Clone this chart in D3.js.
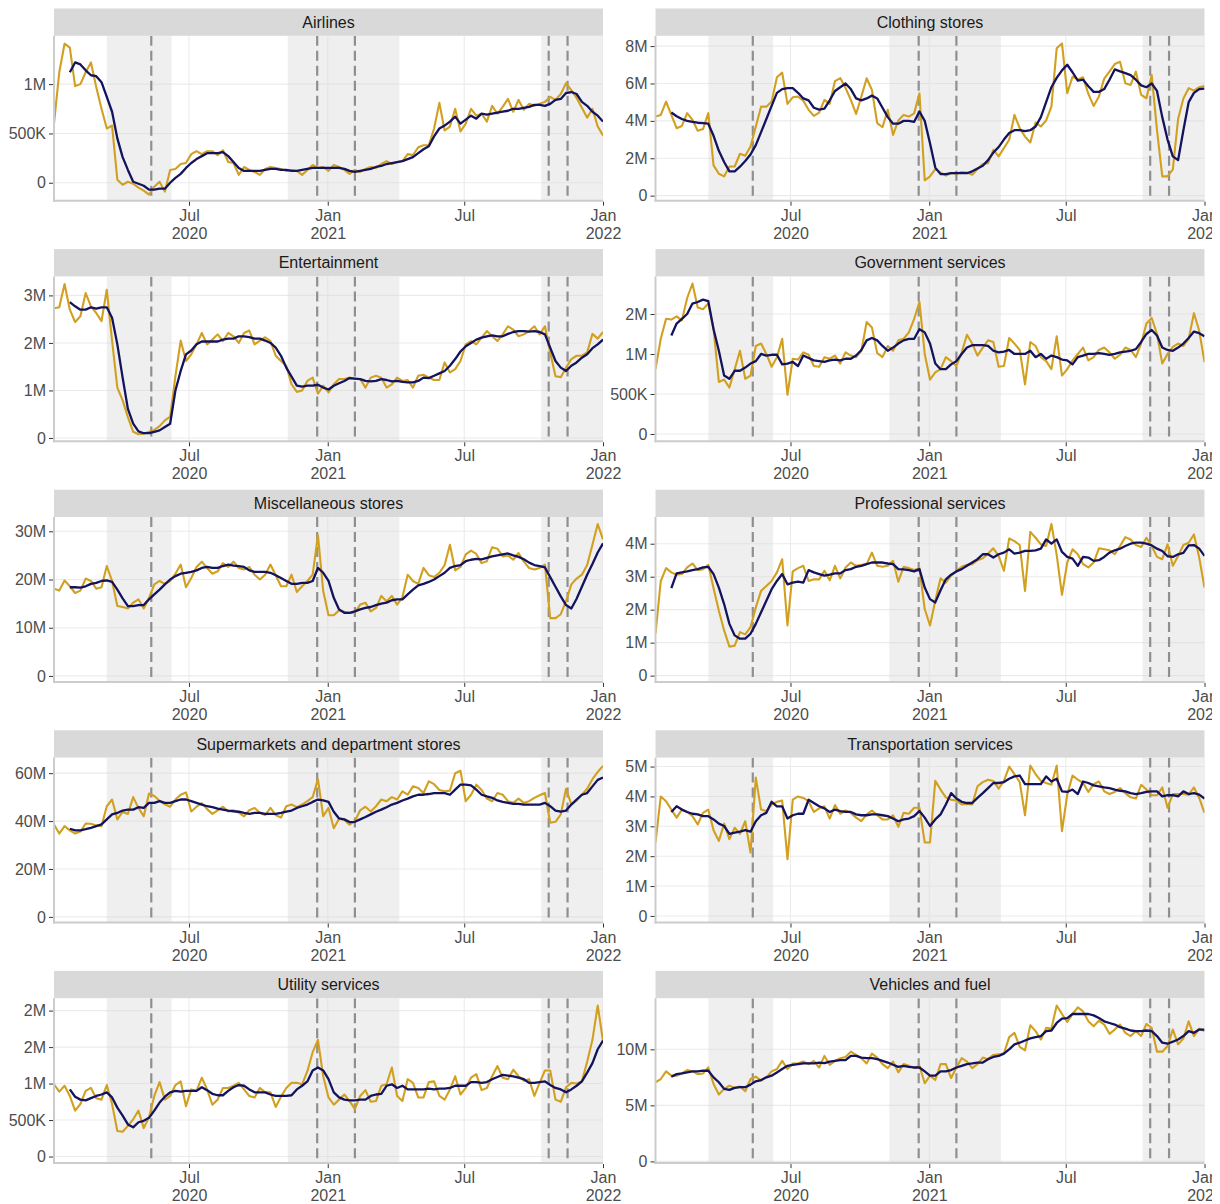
<!DOCTYPE html>
<html>
<head>
<meta charset="utf-8">
<script src="https://cdn.jsdelivr.net/npm/d3@7"></script>
<style>
  body { margin: 0; background: #fff; }
  svg { display: block; font-family: "Liberation Sans", Arial, sans-serif; }
</style>
</head>
<body>
<div id="chart"></div>
<script>
// weekly spending by category (values in millions), first week = Saturday 4 Jan 2020
const firstWeek = '2020-01-04';

const categories = ['Airlines', 'Clothing stores', 'Entertainment', 'Government services',
  'Miscellaneous stores', 'Professional services', 'Supermarkets and department stores',
  'Transportation services', 'Utility services', 'Vehicles and fuel'];

// gold line = weekly value, navy line = 4-week average (starts 3 weeks later)
const airlinesWeekly = [0.60, 1.12, 1.41, 1.37, 0.98, 1.00, 1.12, 1.22, 0.97, 0.75,
  0.55, 0.58, 0.03, -0.02, 0.01, -0.01, -0.05, -0.08, -0.12, -0.04,
  0.01, -0.09, 0.13, 0.14, 0.19, 0.20, 0.29, 0.32, 0.29, 0.32,
  0.32, 0.28, 0.33, 0.21, 0.20, 0.08, 0.16, 0.13, 0.11, 0.08,
  0.14, 0.16, 0.15, 0.14, 0.12, 0.13, 0.12, 0.08, 0.13, 0.18,
  0.15, 0.16, 0.12, 0.18, 0.16, 0.13, 0.09, 0.13, 0.11, 0.14,
  0.16, 0.15, 0.19, 0.22, 0.19, 0.21, 0.22, 0.29, 0.28, 0.36,
  0.38, 0.38, 0.55, 0.81, 0.53, 0.57, 0.75, 0.52, 0.60, 0.75,
  0.68, 0.70, 0.62, 0.78, 0.70, 0.77, 0.85, 0.72, 0.84, 0.74,
  0.80, 0.78, 0.80, 0.82, 0.87, 0.84, 0.90, 1.01, 0.94, 0.86,
  0.76, 0.66, 0.75, 0.57, 0.48];
const airlinesAvg = [1.12, 1.22, 1.20, 1.14, 1.09, 1.08, 1.02, 0.87, 0.72, 0.45,
  0.26, 0.13, 0.01, -0.01, -0.03, -0.07, -0.07, -0.06, -0.06, 0.00,
  0.05, 0.09, 0.15, 0.20, 0.24, 0.27, 0.30, 0.30, 0.30, 0.31,
  0.27, 0.21, 0.15, 0.12, 0.12, 0.12, 0.12, 0.13, 0.14, 0.14,
  0.13, 0.13, 0.12, 0.12, 0.13, 0.14, 0.15, 0.15, 0.15, 0.15,
  0.15, 0.15, 0.14, 0.12, 0.11, 0.12, 0.13, 0.14, 0.16, 0.17,
  0.19, 0.20, 0.21, 0.22, 0.24, 0.26, 0.30, 0.34, 0.37, 0.47,
  0.55, 0.58, 0.62, 0.67, 0.60, 0.64, 0.68, 0.65, 0.70, 0.69,
  0.70, 0.71, 0.72, 0.73, 0.75, 0.75, 0.76, 0.77, 0.79, 0.79,
  0.78, 0.80, 0.84, 0.85, 0.91, 0.92, 0.90, 0.82, 0.78, 0.72,
  0.68, 0.62];

const clothingWeekly = [4.23, 4.32, 5.03, 4.32, 3.61, 3.73, 4.41, 4.05, 3.47, 3.56,
  4.41, 1.62, 1.17, 1.03, 1.56, 1.56, 2.24, 2.13, 2.63, 3.70,
  4.76, 4.76, 5.03, 6.33, 6.58, 4.91, 5.26, 5.30, 5.08, 4.59,
  4.27, 4.44, 5.12, 4.91, 6.13, 6.29, 5.76, 5.12, 4.37, 5.30,
  6.28, 5.65, 3.88, 3.66, 4.59, 3.25, 4.02, 4.32, 4.23, 4.40,
  5.48, 0.82, 1.03, 1.42, 1.24, 1.07, 1.21, 1.17, 1.26, 1.24,
  1.12, 1.42, 1.71, 1.74, 2.45, 2.10, 2.54, 2.99, 4.32, 3.61,
  3.16, 2.84, 3.91, 3.70, 4.02, 4.76, 7.88, 8.14, 5.48, 6.36,
  6.22, 6.33, 5.44, 4.80, 5.30, 6.26, 6.63, 7.04, 7.16, 6.01,
  5.92, 6.63, 5.39, 5.21, 6.45, 3.50, 1.03, 1.03, 1.40, 4.10,
  5.20, 5.75, 5.62, 5.80, 5.87];
const clothingAvg = [4.45, 4.25, 4.10, 4.00, 3.95, 3.90, 3.88, 3.85, 3.20, 2.40,
  1.80, 1.30, 1.30, 1.55, 1.85, 2.20, 2.70, 3.40, 4.10, 4.80,
  5.50, 5.70, 5.75, 5.75, 5.50, 5.20, 5.10, 4.70, 4.60, 4.65,
  5.10, 5.60, 5.80, 6.00, 5.70, 5.20, 5.10, 5.20, 5.35, 5.20,
  4.70, 4.20, 3.85, 3.85, 4.00, 4.00, 3.95, 4.50, 4.00, 2.80,
  1.50, 1.15, 1.15, 1.20, 1.20, 1.20, 1.20, 1.30, 1.45, 1.60,
  1.90, 2.30, 2.60, 3.00, 3.35, 3.50, 3.50, 3.45, 3.50, 3.70,
  4.20, 5.00, 5.80, 6.30, 6.70, 7.00, 6.60, 6.15, 6.20, 5.85,
  5.55, 5.55, 5.70, 6.20, 6.75, 6.65, 6.55, 6.45, 6.20, 5.90,
  5.80, 6.00, 5.60, 4.20, 3.00, 2.10, 1.90, 3.50, 5.00, 5.50,
  5.70, 5.72];

const entertainmentWeekly = [2.73, 2.75, 3.24, 2.70, 2.44, 2.56, 3.05, 2.77, 2.63, 2.46,
  3.12, 2.05, 1.06, 0.79, 0.44, 0.13, 0.08, 0.09, 0.13, 0.17,
  0.25, 0.37, 0.45, 1.30, 2.05, 1.62, 1.76, 1.97, 2.21, 1.97,
  2.07, 2.18, 2.04, 2.21, 2.14, 2.00, 2.21, 2.26, 1.97, 2.05,
  2.12, 2.04, 1.73, 1.62, 1.52, 1.13, 0.97, 1.00, 1.20, 1.27,
  0.93, 1.10, 0.96, 1.13, 1.24, 1.24, 1.27, 1.24, 1.24, 1.06,
  1.27, 1.31, 1.27, 1.06, 1.13, 1.27, 1.20, 1.22, 1.06, 1.31,
  1.33, 1.27, 1.22, 1.22, 1.59, 1.38, 1.45, 1.62, 1.97, 2.04,
  1.97, 2.11, 2.25, 2.14, 2.04, 2.18, 2.35, 2.28, 2.14, 2.18,
  2.25, 2.35, 2.18, 2.35, 1.80, 1.30, 1.28, 1.48, 1.66, 1.73,
  1.73, 1.80, 2.19, 2.09, 2.23];
const entertainmentAvg = [2.86, 2.77, 2.70, 2.70, 2.75, 2.72, 2.75, 2.75, 2.53, 1.97,
  1.27, 0.61, 0.30, 0.14, 0.10, 0.10, 0.13, 0.16, 0.23, 0.30,
  1.00, 1.41, 1.76, 1.84, 1.97, 2.03, 2.03, 2.03, 2.03, 2.07,
  2.09, 2.09, 2.14, 2.14, 2.12, 2.09, 2.09, 2.05, 2.00, 1.90,
  1.73, 1.48, 1.29, 1.10, 1.08, 1.10, 1.10, 1.12, 1.06, 1.02,
  1.10, 1.15, 1.20, 1.26, 1.25, 1.24, 1.20, 1.19, 1.20, 1.24,
  1.22, 1.19, 1.20, 1.18, 1.17, 1.17, 1.20, 1.27, 1.26, 1.31,
  1.36, 1.41, 1.52, 1.66, 1.82, 1.93, 2.00, 2.07, 2.11, 2.14,
  2.16, 2.14, 2.14, 2.19, 2.23, 2.25, 2.25, 2.24, 2.25, 2.23,
  2.18, 1.90, 1.62, 1.48, 1.41, 1.52, 1.59, 1.69, 1.76, 1.89,
  1.97, 2.07];

const governmentWeekly = [0.81, 1.19, 1.44, 1.43, 1.47, 1.42, 1.70, 1.88, 1.58, 1.56,
  1.63, 1.31, 0.65, 0.68, 0.58, 0.81, 1.04, 0.69, 0.73, 1.10,
  1.13, 1.00, 0.84, 0.96, 1.19, 0.49, 0.94, 0.93, 1.02, 0.99,
  0.85, 0.84, 0.96, 0.94, 0.98, 0.88, 1.02, 0.98, 0.96, 1.04,
  1.40, 1.33, 1.01, 0.96, 1.10, 1.04, 1.17, 1.19, 1.27, 1.44,
  1.65, 1.00, 0.68, 0.77, 0.81, 0.96, 0.91, 0.85, 1.02, 1.24,
  1.13, 0.98, 1.08, 1.17, 1.15, 0.84, 0.85, 1.20, 1.13, 1.05,
  0.62, 1.15, 1.10, 0.96, 0.91, 0.81, 1.22, 0.73, 0.81, 0.92,
  1.00, 1.08, 0.92, 0.96, 1.05, 1.08, 1.02, 0.94, 0.99, 1.08,
  1.05, 0.96, 1.13, 1.38, 1.45, 1.25, 0.88, 1.00, 1.09, 1.13,
  1.10, 1.19, 1.51, 1.29, 0.90];
const governmentAvg = [1.23, 1.38, 1.44, 1.50, 1.63, 1.65, 1.68, 1.66, 1.31, 1.04,
  0.73, 0.69, 0.79, 0.79, 0.83, 0.88, 0.91, 1.00, 0.98, 0.99,
  0.99, 0.87, 0.88, 0.90, 0.85, 0.98, 0.95, 0.92, 0.91, 0.90,
  0.92, 0.93, 0.92, 0.94, 0.94, 0.98, 1.05, 1.17, 1.20, 1.17,
  1.10, 1.04, 1.08, 1.13, 1.17, 1.19, 1.19, 1.31, 1.27, 1.13,
  0.88, 0.81, 0.81, 0.87, 0.91, 1.00, 1.08, 1.11, 1.11, 1.11,
  1.10, 1.04, 1.02, 1.03, 1.05, 1.00, 1.00, 1.00, 1.04, 0.96,
  1.00, 0.94, 0.98, 0.96, 0.93, 0.92, 0.87, 0.96, 0.98, 1.00,
  1.00, 1.01, 1.00, 0.99, 1.00, 1.02, 1.03, 1.04, 1.06, 1.15,
  1.25, 1.30, 1.23, 1.08, 1.05, 1.04, 1.08, 1.13, 1.20, 1.28,
  1.26, 1.22];

const miscWeekly = [18.1, 17.7, 19.8, 18.6, 17.2, 17.7, 20.2, 19.7, 18.1, 18.4,
  22.8, 19.7, 14.5, 14.3, 14.0, 15.2, 15.9, 14.0, 16.2, 19.0,
  19.7, 19.1, 19.7, 21.2, 23.1, 18.4, 20.3, 22.6, 23.7, 22.4,
  21.2, 21.7, 23.4, 22.6, 23.7, 22.4, 22.1, 22.6, 21.0, 20.0,
  21.0, 23.1, 20.9, 18.6, 18.6, 21.0, 17.4, 18.6, 19.7, 21.0,
  29.2, 17.6, 12.6, 12.6, 13.6, 13.3, 13.1, 13.1, 14.8, 15.2,
  13.4, 14.1, 16.6, 15.5, 16.6, 14.8, 16.3, 21.0, 19.7, 19.1,
  22.4, 20.9, 20.5, 21.4, 23.0, 27.2, 21.9, 22.6, 25.2, 26.0,
  25.3, 23.4, 23.8, 26.7, 26.4, 24.8, 25.0, 24.1, 25.5, 23.7,
  22.4, 22.1, 22.4, 23.1, 12.0, 12.0, 12.8, 15.5, 19.0, 20.2,
  21.0, 23.0, 27.2, 31.5, 28.3];
const miscAvg = [18.4, 18.4, 18.3, 18.6, 19.1, 19.3, 19.7, 19.8, 19.5, 17.9,
  16.1, 14.5, 14.5, 14.7, 14.7, 15.9, 16.9, 17.9, 19.0, 20.0,
  20.7, 21.2, 21.4, 21.6, 21.9, 22.4, 22.6, 22.4, 22.4, 22.8,
  23.1, 22.9, 22.8, 22.6, 21.9, 21.6, 21.6, 21.6, 21.4, 20.9,
  20.3, 19.7, 19.1, 19.1, 19.3, 19.3, 19.7, 22.4, 21.4, 19.7,
  16.2, 13.8, 13.1, 13.1, 13.4, 13.8, 14.1, 14.3, 14.7, 15.0,
  15.2, 15.7, 15.9, 15.9, 16.9, 17.9, 18.8, 19.1, 19.5, 20.0,
  20.7, 21.4, 22.4, 22.8, 23.0, 23.8, 24.1, 24.3, 24.2, 24.5,
  24.8, 25.0, 25.2, 25.4, 25.0, 24.7, 24.2, 23.5, 23.0, 22.8,
  22.5, 20.5, 18.5, 16.5, 14.7, 14.0, 16.0, 18.5, 21.0, 23.2,
  25.6, 27.5];

const professionalWeekly = [1.27, 2.87, 3.26, 3.13, 3.06, 3.08, 3.28, 3.40, 3.20, 3.23,
  3.36, 2.65, 1.97, 1.37, 0.88, 0.91, 1.32, 1.25, 1.47, 2.07,
  2.57, 2.72, 2.87, 3.13, 3.53, 1.52, 3.16, 3.26, 3.33, 2.87,
  2.92, 2.92, 3.18, 2.89, 3.33, 2.95, 3.28, 3.43, 3.33, 3.36,
  3.38, 3.73, 3.33, 3.30, 3.33, 3.48, 2.85, 3.30, 3.26, 3.20,
  3.26, 2.02, 1.52, 2.27, 2.95, 2.82, 3.03, 3.18, 3.30, 3.36,
  3.38, 3.50, 3.56, 3.70, 3.86, 3.63, 3.18, 4.16, 4.08, 3.96,
  2.57, 4.36, 4.18, 3.98, 3.93, 4.60, 3.66, 2.45, 3.43, 3.83,
  3.68, 3.38, 3.28, 3.43, 3.86, 3.83, 3.80, 3.68, 3.93, 4.20,
  4.13, 3.96, 3.90, 4.18, 3.93, 3.60, 3.53, 3.98, 3.33, 3.63,
  3.96, 4.03, 4.28, 3.58, 2.67];
const professionalAvg = [2.65, 3.10, 3.13, 3.16, 3.20, 3.23, 3.28, 3.30, 3.08, 2.67,
  2.17, 1.57, 1.22, 1.12, 1.12, 1.27, 1.57, 1.92, 2.27, 2.62,
  2.87, 3.08, 2.77, 2.82, 2.85, 2.82, 3.20, 3.13, 3.08, 3.03,
  3.06, 3.10, 3.10, 3.20, 3.23, 3.30, 3.33, 3.38, 3.43, 3.43,
  3.43, 3.40, 3.38, 3.23, 3.22, 3.20, 3.16, 3.23, 2.67, 2.32,
  2.22, 2.59, 2.92, 3.06, 3.16, 3.23, 3.33, 3.43, 3.53, 3.68,
  3.68, 3.58, 3.68, 3.73, 3.83, 3.70, 3.73, 3.78, 3.78, 3.80,
  3.85, 4.13, 4.00, 4.13, 3.75, 3.60, 3.55, 3.33, 3.60, 3.58,
  3.48, 3.50, 3.60, 3.73, 3.80, 3.85, 3.93, 4.00, 4.03, 4.03,
  4.00, 3.95, 3.85, 3.78, 3.62, 3.60, 3.68, 3.72, 3.95, 3.96,
  3.85, 3.63];

const supermarketsWeekly = [38.6, 34.8, 37.9, 36.1, 34.8, 35.6, 39.0, 38.9, 38.2, 37.9,
  46.2, 49.0, 40.7, 43.8, 43.0, 50.0, 45.5, 42.0, 51.5, 50.5,
  48.5, 47.0, 46.0, 49.0, 51.0, 52.0, 44.0, 46.0, 47.5, 45.0,
  43.0, 44.5, 46.0, 44.0, 44.5, 43.5, 42.0, 44.5, 45.5, 43.5,
  42.5, 45.5, 42.5, 41.5, 46.2, 46.9, 45.8, 46.9, 48.3, 50.0,
  57.5, 42.0, 45.5, 37.0, 41.0, 40.5, 38.5, 40.0, 44.5, 46.0,
  44.0, 46.2, 49.0, 48.3, 50.0, 49.0, 52.4, 51.0, 54.5, 53.8,
  51.7, 56.6, 55.4, 53.0, 52.4, 52.7, 60.0, 61.0, 48.3, 51.0,
  55.2, 53.0, 49.4, 48.3, 51.7, 51.0, 48.3, 47.6, 49.4, 47.6,
  48.3, 49.7, 50.8, 51.7, 39.3, 39.7, 42.8, 53.5, 47.0, 48.5,
  51.0, 53.5, 57.5, 60.5, 63.0];
const supermarketsAvg = [36.8, 36.1, 36.1, 36.6, 37.2, 37.9, 38.6, 40.7, 42.8, 43.4,
  44.4, 44.8, 44.8, 45.8, 45.5, 47.6, 47.6, 48.3, 47.6, 47.6,
  48.3, 49.0, 49.0, 48.3, 47.6, 46.9, 46.2, 45.8, 45.2, 44.8,
  44.4, 44.1, 43.9, 43.4, 43.0, 43.4, 43.4, 43.0, 43.0, 43.0,
  43.4, 43.9, 44.4, 45.5, 46.2, 46.9, 48.0, 49.0, 48.6, 48.0,
  43.9, 41.1, 40.7, 39.6, 39.7, 40.7, 41.7, 42.8, 43.9, 44.8,
  45.8, 46.9, 47.6, 48.6, 49.4, 50.3, 51.0, 51.0, 51.3, 51.7,
  51.7, 51.7, 51.0, 53.1, 55.2, 55.2, 54.9, 53.1, 51.0, 50.3,
  49.7, 48.6, 48.0, 47.6, 47.2, 47.2, 46.9, 46.9, 46.9, 46.9,
  47.6, 46.2, 44.4, 43.9, 44.4, 46.9, 49.0, 51.0, 51.7, 54.5,
  57.2, 58.2];

const transportWeekly = [2.46, 4.00, 3.84, 3.56, 3.29, 3.56, 3.48, 3.34, 3.06, 3.45,
  3.56, 2.87, 2.51, 3.09, 2.57, 2.95, 2.75, 3.17, 2.12, 4.63,
  3.56, 3.51, 3.73, 3.82, 3.86, 1.90, 3.89, 4.00, 3.95, 3.84,
  3.48, 3.60, 3.67, 3.26, 3.71, 3.42, 3.53, 3.45, 3.29, 3.17,
  3.40, 3.53, 3.37, 3.23, 3.23, 3.37, 2.98, 3.45, 3.42, 3.62,
  3.62, 2.46, 2.46, 4.52, 4.23, 3.97, 3.89, 3.86, 3.73, 3.75,
  3.73, 4.34, 4.48, 4.56, 4.52, 4.26, 4.52, 5.00, 4.75, 4.48,
  3.37, 5.03, 4.75, 4.52, 4.45, 4.39, 5.03, 2.84, 4.06, 4.70,
  4.56, 4.45, 4.15, 4.41, 4.50, 4.17, 4.08, 4.15, 4.28, 4.11,
  3.97, 3.93, 4.39, 4.23, 4.04, 4.04, 4.30, 3.62, 4.08, 4.08,
  4.08, 4.06, 4.30, 3.95, 3.45];
const transportAvg = [3.48, 3.67, 3.56, 3.48, 3.42, 3.40, 3.34, 3.34, 3.23, 3.09,
  3.01, 2.75, 2.79, 2.82, 2.87, 2.82, 3.17, 3.37, 3.45, 3.82,
  3.67, 3.67, 3.26, 3.37, 3.42, 3.42, 3.89, 3.78, 3.67, 3.60,
  3.48, 3.56, 3.51, 3.48, 3.48, 3.40, 3.37, 3.37, 3.40, 3.40,
  3.37, 3.34, 3.26, 3.17, 3.23, 3.26, 3.34, 3.51, 3.29, 3.01,
  3.23, 3.40, 3.73, 4.11, 3.93, 3.82, 3.78, 3.78, 3.95, 4.11,
  4.28, 4.45, 4.45, 4.48, 4.59, 4.67, 4.70, 4.41, 4.41, 4.41,
  4.41, 4.67, 4.50, 4.59, 4.17, 4.15, 4.23, 4.08, 4.50, 4.45,
  4.37, 4.34, 4.30, 4.28, 4.23, 4.19, 4.17, 4.11, 4.08, 4.11,
  4.15, 4.17, 4.17, 4.00, 4.04, 4.04, 4.00, 4.17, 4.08, 4.11,
  4.06, 3.93];

const utilityWeekly = [0.99, 0.89, 0.97, 0.83, 0.63, 0.72, 0.90, 0.94, 0.80, 0.78,
  0.98, 0.72, 0.35, 0.34, 0.42, 0.51, 0.63, 0.39, 0.54, 0.83,
  1.02, 0.78, 0.83, 0.98, 1.03, 0.69, 0.92, 0.90, 1.08, 0.92,
  0.71, 0.78, 0.94, 0.94, 0.97, 1.01, 0.92, 0.83, 0.81, 0.94,
  0.88, 0.88, 0.68, 0.82, 0.94, 1.01, 1.01, 0.99, 1.17, 1.43,
  1.60, 1.10, 0.81, 0.71, 0.78, 0.85, 0.76, 0.65, 0.83, 0.91,
  0.75, 0.76, 0.97, 0.99, 1.22, 0.83, 0.76, 1.06, 1.01, 0.81,
  0.81, 1.02, 1.03, 0.83, 0.78, 0.92, 1.10, 0.85, 0.94, 1.08,
  1.13, 0.91, 0.94, 1.10, 1.24, 1.08, 1.06, 1.19, 1.10, 1.04,
  1.06, 0.83, 1.01, 1.18, 1.18, 0.78, 0.75, 0.95, 1.01, 1.00,
  1.03, 1.30, 1.60, 2.07, 1.58];
const utilityAvg = [0.92, 0.82, 0.78, 0.77, 0.80, 0.83, 0.85, 0.88, 0.81, 0.67,
  0.56, 0.44, 0.40, 0.47, 0.49, 0.53, 0.63, 0.74, 0.82, 0.88,
  0.90, 0.89, 0.90, 0.90, 0.90, 0.95, 0.91, 0.86, 0.84, 0.84,
  0.90, 0.95, 0.98, 0.97, 0.92, 0.88, 0.88, 0.88, 0.85, 0.83,
  0.83, 0.83, 0.84, 0.92, 0.97, 1.03, 1.18, 1.22, 1.18, 1.06,
  0.88, 0.81, 0.78, 0.77, 0.77, 0.78, 0.78, 0.83, 0.85, 0.86,
  0.97, 0.99, 0.94, 0.97, 0.92, 0.92, 0.92, 0.92, 0.93, 0.92,
  0.93, 0.93, 0.94, 0.97, 0.97, 0.97, 1.02, 1.02, 1.01, 1.02,
  1.06, 1.09, 1.12, 1.11, 1.10, 1.08, 1.06, 1.01, 1.01, 1.02,
  1.03, 0.98, 0.94, 0.92, 0.88, 0.92, 0.97, 1.03, 1.15, 1.28,
  1.47, 1.59];

const vehiclesWeekly = [7.06, 7.35, 8.03, 7.65, 7.65, 7.85, 8.15, 8.03, 7.79, 7.85,
  8.38, 6.91, 5.97, 6.47, 6.76, 6.56, 6.68, 6.26, 7.35, 7.56,
  7.21, 7.50, 8.03, 8.24, 8.97, 8.24, 8.74, 8.74, 8.91, 8.68,
  8.97, 8.38, 9.41, 8.62, 8.97, 9.21, 9.32, 9.79, 9.50, 9.21,
  8.74, 9.62, 9.26, 8.68, 8.32, 8.91, 7.94, 8.68, 8.53, 8.32,
  8.53, 6.97, 7.65, 7.26, 8.68, 8.68, 7.44, 8.38, 9.21, 8.91,
  8.32, 8.68, 9.26, 9.12, 9.50, 9.56, 9.62, 11.09, 11.47, 10.21,
  9.91, 12.15, 11.62, 10.88, 11.91, 11.85, 13.91, 13.15, 12.44, 13.15,
  13.74, 13.38, 12.50, 12.06, 12.56, 12.21, 11.38, 11.76, 12.21, 11.47,
  11.18, 11.62, 11.18, 12.26, 11.91, 9.79, 9.79, 10.29, 11.76, 10.44,
  10.97, 12.50, 11.18, 11.85, 11.62];
const vehiclesAvg = [7.56, 7.79, 7.85, 7.94, 8.03, 8.03, 8.09, 8.09, 7.50, 7.06,
  6.47, 6.38, 6.56, 6.62, 6.62, 6.85, 7.15, 7.26, 7.50, 7.65,
  7.94, 8.24, 8.53, 8.62, 8.68, 8.74, 8.74, 8.74, 8.82, 8.76,
  8.91, 8.97, 9.03, 9.03, 9.41, 9.41, 9.26, 9.21, 9.21, 9.12,
  8.97, 8.82, 8.62, 8.44, 8.53, 8.44, 8.38, 8.38, 8.03, 7.65,
  7.65, 8.03, 8.03, 8.15, 8.38, 8.53, 8.68, 8.74, 8.82, 8.82,
  9.12, 9.32, 9.41, 9.62, 10.00, 10.44, 10.59, 10.79, 10.97, 11.09,
  11.18, 11.62, 11.68, 12.35, 12.74, 12.79, 13.15, 13.15, 13.15, 13.15,
  13.03, 12.79, 12.50, 12.35, 12.21, 11.97, 11.85, 11.68, 11.62, 11.62,
  11.68, 11.62, 11.18, 10.59, 10.50, 10.68, 10.88, 11.18, 11.62, 11.47,
  11.76, 11.76];

// y-axis tick values (millions) and visible y range of each panel
const airlinesTicks = [0, 0.5, 1];
const clothingTicks = [0, 2, 4, 6, 8];
const entertainmentTicks = [0, 1, 2, 3];
const governmentTicks = [0, 0.5, 1, 1.5];
const miscTicks = [0, 10, 20, 30];
const professionalTicks = [0, 1, 2, 3, 4];
const supermarketsTicks = [0, 20, 40, 60];
const transportTicks = [0, 1, 2, 3, 4, 5];
const utilityTicks = [0, 0.5, 1, 1.5, 2];
const vehiclesTicks = [0, 5, 10];

const yLimits = [[-0.182, 1.49], [-0.27, 8.55], [-0.07, 3.40], [-0.092, 1.97], [-1.24, 32.97],
  [-0.19, 4.81], [-2.34, 66.5], [-0.22, 5.30], [-0.09, 2.17], [-0.15, 14.56]];

// x axis
const xTickDates = ['2020-07-01', '2021-01-01', '2021-07-01', '2022-01-01'];
const xTickLabels = [['Jul', '2020'], ['Jan', '2021'], ['Jul'], ['Jan', '2022']];

// shaded periods and dashed marker dates
const shadedPeriods = [['2020-03-14', '2020-06-08'], ['2020-11-09', '2021-04-06'], ['2021-10-11', '2022-02-01']];
const markerDates = ['2020-05-12', '2020-12-18', '2021-02-06', '2021-10-21', '2021-11-15'];

// ---------------------------------------------------------------
const weekly = [airlinesWeekly, clothingWeekly, entertainmentWeekly, governmentWeekly, miscWeekly,
  professionalWeekly, supermarketsWeekly, transportWeekly, utilityWeekly, vehiclesWeekly];
const averages = [airlinesAvg, clothingAvg, entertainmentAvg, governmentAvg, miscAvg,
  professionalAvg, supermarketsAvg, transportAvg, utilityAvg, vehiclesAvg];
const ticks = [airlinesTicks, clothingTicks, entertainmentTicks, governmentTicks, miscTicks,
  professionalTicks, supermarketsTicks, transportTicks, utilityTicks, vehiclesTicks];

const parse = d3.utcParse('%Y-%m-%d');
const start = parse(firstWeek);
const weekDate = i => d3.utcDay.offset(start, 7 * i);
const xDomain = [start, weekDate(airlinesWeekly.length - 1)];

const W = 1212, H = 1204;
const colLeft = [54, 655.5], panelW = 549;
const rowTop0 = 8.5, rowStep = 240.6, stripH = 27.3, panelH = 164.9;
const GOLD = '#d2a021', NAVY = '#13135e';

const fmtM = v => v === 0 ? '0' : (v >= 1 ? Math.round(v) + 'M' : Math.round(v * 1000) + 'K');

const svg = d3.select('#chart').append('svg').attr('width', W).attr('height', H);
const defs = svg.append('defs');

categories.forEach((name, k) => {
  const col = k % 2, row = Math.floor(k / 2);
  const x0 = colLeft[col], top = rowTop0 + row * rowStep;
  const py = top + stripH, pb = py + panelH;

  const x = d3.scaleUtc().domain(xDomain).range([x0, x0 + panelW]);
  const y = d3.scaleLinear().domain(yLimits[k]).range([pb, py]);

  const cid = 'clip' + k;
  defs.append('clipPath').attr('id', cid)
    .append('rect').attr('x', x0).attr('y', py).attr('width', panelW).attr('height', panelH);

  const g = svg.append('g');
  const inner = g.append('g').attr('clip-path', `url(#${cid})`);

  // grid lines
  inner.append('g').selectAll('line').data(ticks[k]).join('line')
    .attr('x1', x0).attr('x2', x0 + panelW)
    .attr('y1', d => y(d)).attr('y2', d => y(d))
    .attr('stroke', '#ebebeb').attr('stroke-width', 1.1);
  inner.append('g').selectAll('line').data(xTickDates).join('line')
    .attr('x1', d => x(parse(d))).attr('x2', d => x(parse(d)))
    .attr('y1', py).attr('y2', pb)
    .attr('stroke', '#ebebeb').attr('stroke-width', 1.1);

  // shaded periods
  inner.append('g').selectAll('rect').data(shadedPeriods).join('rect')
    .attr('x', d => x(parse(d[0])))
    .attr('width', d => x(parse(d[1])) - x(parse(d[0])))
    .attr('y', py).attr('height', panelH)
    .attr('fill', '#d9d9d9').attr('fill-opacity', 0.42);

  // dashed markers
  inner.append('g').selectAll('line').data(markerDates).join('line')
    .attr('x1', d => x(parse(d))).attr('x2', d => x(parse(d)))
    .attr('y1', py).attr('y2', pb)
    .attr('stroke', '#8f8f8f').attr('stroke-width', 2.2)
    .attr('stroke-dasharray', '10,5');

  // series
  const data = weekly[k];
  const avg = averages[k];
  const offset = data.length - avg.length;
  inner.append('path').datum(data)
    .attr('fill', 'none').attr('stroke', GOLD).attr('stroke-width', 2.1)
    .attr('stroke-linejoin', 'round')
    .attr('d', d3.line().x((d, i) => x(weekDate(i))).y(d => y(d)));
  inner.append('path').datum(avg)
    .attr('fill', 'none').attr('stroke', NAVY).attr('stroke-width', 2.3)
    .attr('stroke-linejoin', 'round')
    .attr('d', d3.line().x((d, i) => x(weekDate(i + offset))).y(d => y(d)));

  // axis lines
  g.append('line').attr('x1', x0).attr('x2', x0).attr('y1', py).attr('y2', pb + 1)
    .attr('stroke', '#cccccc').attr('stroke-width', 2);
  g.append('line').attr('x1', x0 - 1).attr('x2', x0 + panelW).attr('y1', pb).attr('y2', pb)
    .attr('stroke', '#cccccc').attr('stroke-width', 2);

  // y axis
  const yAxis = g.append('g').attr('transform', `translate(${x0 - 1},0)`)
    .call(d3.axisLeft(y).tickValues(ticks[k]).tickFormat(fmtM).tickSize(4).tickPadding(3));
  yAxis.select('.domain').remove();
  yAxis.selectAll('.tick line').attr('stroke', '#333').attr('stroke-width', 1);
  yAxis.selectAll('.tick text').attr('fill', '#4d4d4d').style('font-size', '16px')
    .style('font-family', '"Liberation Sans", Arial, sans-serif');

  // x axis (two-line labels)
  const xAxis = g.append('g').attr('transform', `translate(0,${pb + 1})`)
    .call(d3.axisBottom(x).tickValues(xTickDates.map(parse)).tickSize(4).tickPadding(3).tickFormat(''));
  xAxis.select('.domain').remove();
  xAxis.selectAll('.tick line').attr('stroke', '#333').attr('stroke-width', 1);
  xAxis.selectAll('.tick text').each(function (d, i) {
    const t = d3.select(this).text(null).attr('dy', null).attr('fill', '#4d4d4d')
      .style('font-size', '16px').style('font-family', '"Liberation Sans", Arial, sans-serif');
    xTickLabels[i].forEach((s, j) => {
      t.append('tspan').attr('x', 0).attr('dy', j === 0 ? '0.75em' : '1.13em').text(s);
    });
  });

  // strip
  g.append('rect').attr('x', x0).attr('y', top).attr('width', panelW).attr('height', stripH)
    .attr('fill', '#d9d9d9');
  g.append('text').attr('x', x0 + panelW / 2).attr('y', top + stripH / 2).attr('dy', '0.35em')
    .attr('text-anchor', 'middle').attr('fill', '#1a1a1a').style('font-size', '16px')
    .text(name);
});
</script>
</body>
</html>
